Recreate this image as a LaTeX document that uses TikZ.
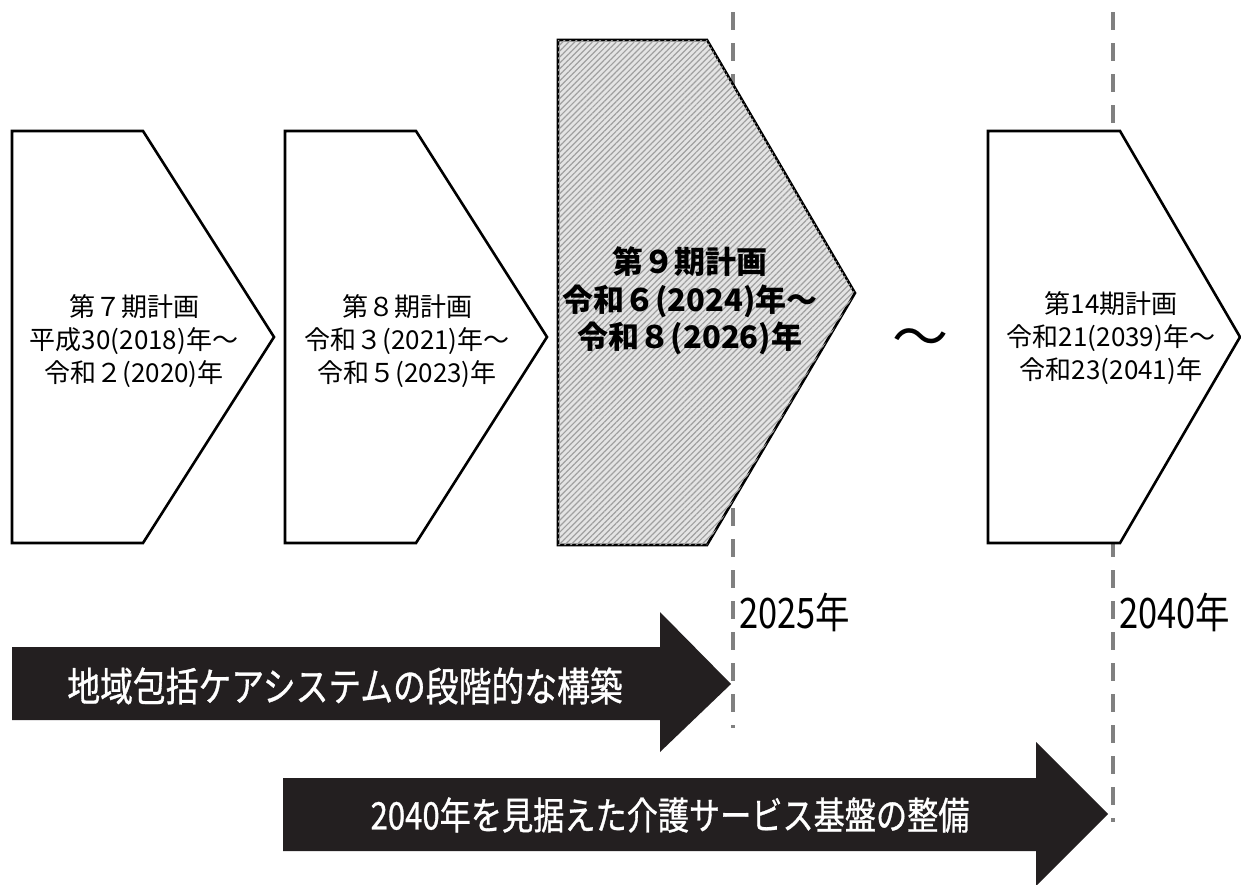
\documentclass[tikz,border=0pt]{standalone}
\usepackage{fontspec}
\setmainfont{Noto Sans CJK JP}
\newfontfamily\jpc{Noto Sans CJK JP}[FakeStretch=0.82]
\newfontfamily\jpcm{Noto Sans CJK JP}[FakeStretch=0.82, FakeBold=0.8]
\usetikzlibrary{patterns.meta}
\definecolor{dashgray}{RGB}{128,128,128}
\definecolor{arrowblack}{RGB}{35,31,32}
\definecolor{hatchbg}{RGB}{228,228,228}
\definecolor{hatchline}{RGB}{160,160,160}
\begin{document}
\begin{tikzpicture}[x=1pt,y=-1pt,
  yearline/.style={draw=dashgray, line width=4.5pt, dash pattern=on 18pt off 13pt},
  planbox/.style={draw=black, line width=2.6pt, fill=white, line join=miter},
  hatchbox/.style={draw=black, line width=2.6pt, line join=miter, fill=hatchbg,
    postaction={pattern={Lines[angle=45,distance=4.2pt,line width=1.2pt]}, pattern color=hatchline}},
  boxtext/.style={align=center, font=\fontsize{26}{33}\selectfont, inner sep=0pt},
  boldtext/.style={align=center, font=\bfseries\fontsize{31}{37.5}\selectfont, inner sep=0pt},
  yeartext/.style={anchor=west, font=\jpc\fontsize{42}{46}\selectfont, inner sep=0pt},
  bigarrow/.style={fill=arrowblack, draw=none},
  arrowtext/.style={text=white, font=\jpcm\fontsize{#1}{#1}\selectfont, inner sep=0pt},
]
\useasboundingbox (0,0) rectangle (1241,884);
\fill[white] (0,0) rectangle (1241,884);

% dashed year lines
\coordinate (l1top) at (733,12);
\coordinate (l1bot) at (733,728);
\coordinate (l2top) at (1113,12);
\coordinate (l2bot) at (1113,822);
\draw[yearline] (l1top) -- (l1bot);
\draw[yearline] (l2top) -- (l2bot);

% plan boxes
\draw[planbox] (12,131) -- (143,131) -- (274,337) -- (143,543) -- (12,543) -- cycle;
\draw[planbox] (285,131) -- (416,131) -- (547,337) -- (416,543) -- (285,543) -- cycle;
\draw[hatchbox] (558,40) -- (707,40) -- (855,293) -- (707,545) -- (558,545) -- cycle;
\draw[planbox] (988,131) -- (1120,131) -- (1240,337) -- (1120,543) -- (988,543) -- cycle;

\node[boxtext] (p7) at (134,341) {第７期計画\\平成30(2018)年～\\令和２(2020)年};
\node[boxtext] (p8) at (407,341) {第８期計画\\令和３(2021)年～\\令和５(2023)年};
\node[boldtext] (p9) at (690,301) {第９期計画\\令和６(2024)年～\\令和８(2026)年};
\node[boxtext] (p14) at (1111,338) {第14期計画\\令和21(2039)年～\\令和23(2041)年};

\node[font=\fontsize{56}{56}\selectfont, inner sep=0pt] (wave) at (920,343) {〜};

% year labels
\node[yeartext] (y2025) at (739,612) {2025年};
\node[yeartext] (y2040) at (1119,612) {2040年};

% big arrows
\fill[bigarrow] (12,647) -- (660,647) -- (660,612) -- (731,684) -- (660,752) -- (660,720) -- (12,720) -- cycle;
\node[arrowtext=40] (a1) at (345,686) {地域包括ケアシステムの段階的な構築};
\fill[bigarrow] (283,778) -- (1036,778) -- (1036,742) -- (1108,814) -- (1036,886) -- (1036,851) -- (283,851) -- cycle;
\node[arrowtext=38] (a2) at (670,815) {2040年を見据えた介護サービス基盤の整備};
\end{tikzpicture}
\end{document}
